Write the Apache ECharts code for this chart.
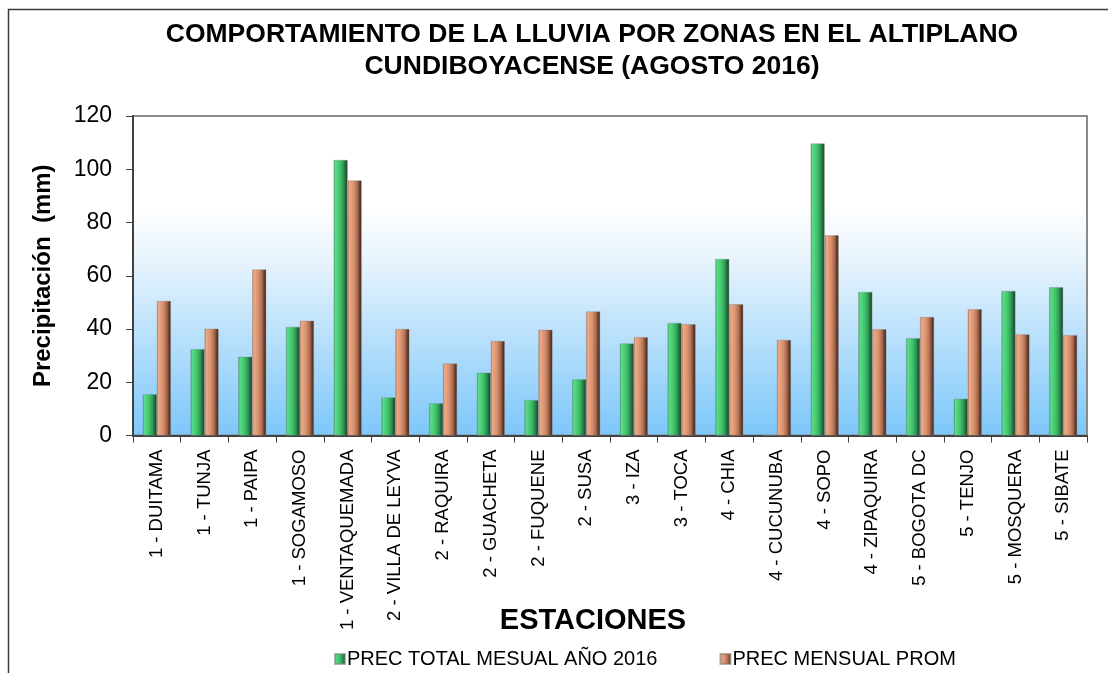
<!DOCTYPE html>
<html>
<head>
<meta charset="utf-8">
<script src="https://cdn.jsdelivr.net/npm/echarts@6/dist/echarts.min.js"></script>
<style>
html,body{margin:0;padding:0;background:#fff;}
#chart{width:1108px;height:673px;}
</style>
</head>
<body>
<div id="chart"></div>
<script>
const categories = ['1 - DUITAMA','1 - TUNJA','1 - PAIPA','1 - SOGAMOSO','1 - VENTAQUEMADA','2 - VILLA DE LEYVA','2 - RAQUIRA','2 - GUACHETA','2 - FUQUENE','2 - SUSA','3 - IZA','3 - TOCA','4 - CHIA','4 - CUCUNUBA','4 - SOPO','4 - ZIPAQUIRA','5 - BOGOTA DC','5 - TENJO','5 - MOSQUERA','5 - SIBATE'];
const precTotal2016 = [15.5,32.4,29.6,40.8,103.5,14.3,12.1,23.6,13.3,21.1,34.6,42.3,66.3,0,109.7,53.9,36.5,13.8,54.3,55.7];
const precMensualProm = [50.5,40.1,62.4,43.1,95.8,40.0,27.1,35.5,39.7,46.6,36.9,41.8,49.3,35.9,75.2,39.9,44.5,47.4,38.0,37.7];
const yTicks = [0,20,40,60,80,100,120];
const seriesNames = ['PREC TOTAL MESUAL AÑO 2016','PREC MENSUAL PROM'];

const FONT = 'Liberation Sans, Arial, sans-serif';
function hgrad(stops){
  return {type:'linear',x:0,y:0,x2:1,y2:0,colorStops:stops.map(s=>({offset:s[0],color:s[1]}))};
}
const greenFill = hgrad([[0,'#3a9e5c'],[0.12,'#5cdc88'],[0.45,'#41c46e'],[0.7,'#2f9852'],[0.85,'#23653a'],[1,'#1a3f28']]);
const orangeFill = hgrad([[0,'#b47657'],[0.12,'#efa985'],[0.45,'#d6906e'],[0.7,'#a96b4f'],[0.85,'#6b3f2d'],[1,'#3a2219']]);

const chart = echarts.init(document.getElementById('chart'));
chart.setOption({
  animation:false,
  backgroundColor:'#ffffff',
  textStyle:{fontFamily:FONT},
  title:{
    text:'COMPORTAMIENTO DE LA LLUVIA POR ZONAS EN EL ALTIPLANO\nCUNDIBOYACENSE (AGOSTO 2016)',
    left:587, top:14, textAlign:'center',
    textStyle:{fontFamily:FONT,fontSize:26.5,fontWeight:'bold',color:'#000',lineHeight:32}
  },
  legend:{
    data:seriesNames,
    left:329, top:644,
    itemWidth:10, itemHeight:10, itemGap:62,
    icon:'rect',
    textStyle:{fontFamily:FONT,fontSize:20,color:'#000',padding:[0,0,0,-3]}
  },
  graphic:[
    {type:'rect',silent:true,z:-1,shape:{x:8.5,y:9.5,width:1300,height:900},style:{fill:null,stroke:'#3c3c3c',lineWidth:1.5}},
    {type:'text',silent:true,style:{text:'ESTACIONES',x:593,y:621,textAlign:'center',textVerticalAlign:'middle',font:'bold 29px '+FONT,fill:'#000'}}
  ],
  grid:{
    left:133, top:116, right:21, bottom:237.5,
    show:true, borderColor:'#8a8a8a', borderWidth:2,
    backgroundColor:{type:'linear',x:0,y:0,x2:0,y2:1,colorStops:[
      {offset:0,color:'#ffffff'},{offset:0.28,color:'#ffffff'},{offset:0.45,color:'#e8f4fd'},{offset:1,color:'#7cc7fa'}]}
  },
  xAxis:{
    type:'category',
    data:categories,
    axisLine:{show:true,lineStyle:{color:'#404040',width:2}},
    axisTick:{show:true,alignWithLabel:false,length:7,lineStyle:{color:'#404040',width:1}},
    axisLabel:{interval:0,rotate:90,fontSize:18.5,color:'#000',margin:14,fontFamily:FONT},
    splitLine:{show:false}
  },
  yAxis:{
    type:'value',
    min:0,max:120,interval:20,
    name:'Precipitación  (mm)',
    nameLocation:'middle',
    nameGap:78,
    nameTextStyle:{fontFamily:FONT,fontSize:24,fontWeight:'bold',color:'#000'},
    axisLine:{show:true,lineStyle:{color:'#404040',width:2}},
    axisTick:{show:true,length:7,lineStyle:{color:'#404040',width:1}},
    axisLabel:{fontSize:23,color:'#000',margin:21,fontFamily:FONT,
      formatter:v=>yTicks.includes(v)?String(v):''},
    splitLine:{show:false}
  },
  series:[
    {name:seriesNames[0],type:'bar',data:precTotal2016,barWidth:14,barGap:'0%',
      itemStyle:{color:greenFill,borderColor:'rgba(110,140,120,0.6)',borderWidth:0.6}},
    {name:seriesNames[1],type:'bar',data:precMensualProm,barWidth:14,barGap:'0%',
      itemStyle:{color:orangeFill,borderColor:'rgba(140,120,110,0.6)',borderWidth:0.6}}
  ]
});
</script>
</body>
</html>
